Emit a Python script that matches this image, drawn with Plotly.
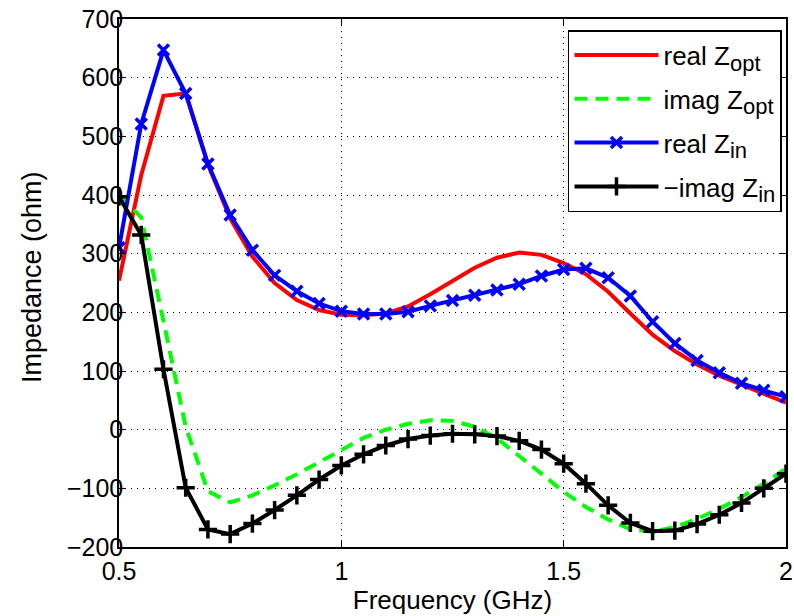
import plotly.graph_objects as go

freq_ghz = [0.5, 0.55, 0.6, 0.65, 0.7, 0.75, 0.8, 0.85, 0.9, 0.95, 1.0,
            1.05, 1.1, 1.15, 1.2, 1.25, 1.3, 1.35, 1.4, 1.45, 1.5,
            1.55, 1.6, 1.65, 1.7, 1.75, 1.8, 1.85, 1.9, 1.95, 2.0]

real_zopt = [254, 434, 569, 573, 452, 360, 295, 250, 221, 204, 196,
             195, 198, 210, 231, 253, 276, 293, 302, 298, 284,
             265, 235, 198, 162, 134, 111, 92, 77, 62, 46]

imag_zopt = [400, 362, 185, 5, -105, -124, -112, -95, -76, -56, -35,
             -14, 0, 10, 16, 15, 5, -15, -44, -75, -106,
             -132, -153, -170, -174, -166, -152, -135, -115, -92, -66]

real_zin = [310, 521, 647, 573, 453, 366, 306, 263, 236, 215, 202,
            197, 197, 201, 211, 220, 229, 238, 248, 262, 273,
            275, 259, 228, 184, 147, 118, 97, 79, 67, 56]

neg_imag_zin = [397, 332, 103, -99, -170, -178, -160, -137, -112, -85, -61,
                -42, -27, -16, -10, -7, -8, -11, -19, -34, -58,
                -92, -129, -159, -173, -172, -161, -145, -125, -100, -75]

x_ticks = [0.5, 1, 1.5, 2]
x_tick_labels = ["0.5", "1", "1.5", "2"]
y_ticks = [-200, -100, 0, 100, 200, 300, 400, 500, 600, 700]
y_tick_labels = ["\u2212200", "\u2212100", "0", "100", "200", "300", "400", "500", "600", "700"]

series_names = ["real Z", "imag Z", "real Z", "\u2212imag Z"]
series_subs = ["opt", "opt", "in", "in"]

FONT = "Liberation Sans, Arial, Helvetica, sans-serif"


def legend_name(i):
    return f"{series_names[i]}<sub><span style='font-size:22px'>{series_subs[i]}</span></sub>"


fig = go.Figure()
fig.add_trace(go.Scatter(x=freq_ghz, y=real_zopt, mode="lines", name=legend_name(0),
                         legendgroup="a", line=dict(color="#ff0000", width=4)))
fig.add_trace(go.Scatter(x=freq_ghz, y=imag_zopt, mode="lines", name=legend_name(1),
                         legendgroup="b", line=dict(color="#00ff00", width=4, dash="13px,8px")))
fig.add_trace(go.Scatter(x=freq_ghz, y=real_zin, mode="lines+markers", name=legend_name(2),
                         legendgroup="c", line=dict(color="#0000ff", width=4),
                         marker=dict(symbol="x-thin", size=11, color="#0000ff",
                                     line=dict(width=3.5, color="#0000ff"))))
fig.add_trace(go.Scatter(x=freq_ghz, y=neg_imag_zin, mode="lines+markers", name=legend_name(3),
                         legendgroup="d", line=dict(color="#000000", width=4),
                         marker=dict(symbol="cross-thin", size=13, color="#000000",
                                     line=dict(width=3.5, color="#000000"))))

axis_common = dict(
    showline=True, linecolor="black", linewidth=1.5, mirror="ticks",
    ticks="inside", ticklen=7, tickwidth=1, tickcolor="black",
    showgrid=True, gridcolor="black", gridwidth=1, griddash="1px,5px",
    zeroline=False, tickfont=dict(family=FONT, size=25, color="black"),
)

fig.update_xaxes(range=[0.5, 2], tickvals=x_ticks, ticktext=x_tick_labels,
                 ticklabelstandoff=1,
                 title=dict(text="Frequency (GHz)", font=dict(family=FONT, size=26, color="black"),
                            standoff=1),
                 **axis_common)
fig.update_yaxes(range=[-200, 700], tickvals=y_ticks, ticktext=y_tick_labels,
                 ticklabelstandoff=-11,
                 **axis_common)

fig.add_annotation(text="Impedance (ohm)", textangle=-90, showarrow=False,
                   xref="paper", yref="paper", x=0, y=0.5, xanchor="center", yanchor="middle",
                   xshift=-87, yshift=6,
                   font=dict(family=FONT, size=27, color="black"))

fig.update_layout(
    width=794, height=616,
    margin=dict(l=119, r=8, t=19, b=69, autoexpand=False),
    paper_bgcolor="white", plot_bgcolor="white",
    font=dict(family=FONT, size=26, color="black"),
    showlegend=True,
    legend=dict(x=0.994, y=0.979, xanchor="right", yanchor="top",
                bgcolor="white", bordercolor="black", borderwidth=1.5,
                font=dict(family=FONT, size=26, color="black"),
                tracegroupgap=7, itemwidth=84),
)

fig.write_html("out.html", config={"displayModeBar": False},
               post_script="document.body.style.margin='0px';")
